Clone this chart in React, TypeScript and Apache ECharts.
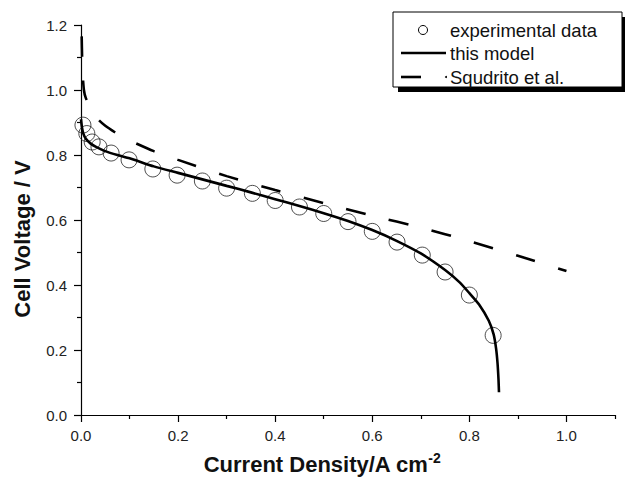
import React, { useEffect, useRef } from "react";
import * as echarts from "echarts";

// Experimental data (circles)
const expX = [0.004, 0.012, 0.023, 0.037, 0.062, 0.099, 0.148, 0.198, 0.25, 0.3, 0.353, 0.4, 0.45, 0.5, 0.55, 0.6, 0.651, 0.703, 0.75, 0.8, 0.849];
const expY = [0.892, 0.866, 0.84, 0.825, 0.806, 0.785, 0.757, 0.738, 0.72, 0.698, 0.682, 0.66, 0.64, 0.62, 0.595, 0.565, 0.532, 0.492, 0.44, 0.369, 0.245];

// This model (solid)
const modelX = [0, 0.002, 0.005, 0.01, 0.02, 0.03, 0.05, 0.075, 0.1, 0.15, 0.2, 0.25, 0.3, 0.35, 0.4, 0.45, 0.5, 0.55, 0.6, 0.65, 0.7, 0.75, 0.78, 0.8, 0.82, 0.84, 0.85, 0.855, 0.858, 0.86, 0.861];
const modelY = [0.91, 0.885, 0.865, 0.85, 0.835, 0.826, 0.812, 0.8, 0.79, 0.765, 0.745, 0.725, 0.705, 0.685, 0.664, 0.643, 0.621, 0.597, 0.569, 0.536, 0.497, 0.446, 0.408, 0.375, 0.34, 0.29, 0.248, 0.205, 0.16, 0.11, 0.07];

// Squdrito et al. (dashed)
const sqX = [0.0002, 0.001, 0.003, 0.006, 0.01, 0.02, 0.035, 0.05, 0.075, 0.1, 0.15, 0.2, 0.3, 0.4, 0.5, 0.6, 0.7, 0.8, 0.9, 1.0];
const sqY = [1.3, 1.2, 1.06, 1.0, 0.975, 0.945, 0.91, 0.89, 0.865, 0.845, 0.812, 0.785, 0.735, 0.692, 0.652, 0.613, 0.577, 0.535, 0.49, 0.443];

const legendLabels = ["experimental data", "this model", "Squdrito et al."];
const xMajorTicks = [0, 0.2, 0.4, 0.6, 0.8, 1.0];
const xMinorTicks = [0.1, 0.3, 0.5, 0.7, 0.9, 1.1];
const xTitle = "Current Density/A cm";
const xTitleSup = "-2";
const yTitle = "Cell Voltage / V";

const FONT = "Liberation Sans, Arial, Helvetica, sans-serif";

const zip = (xs: number[], ys: number[]) => xs.map((x, i) => [x, ys[i]]);

export default function App() {
  const ref = useRef<HTMLDivElement>(null);
  useEffect(() => {
    if (!ref.current) return;
    const chart = echarts.init(ref.current, null, { renderer: "svg" });
    const axisLineStyle = { color: "#000", width: 1.2 };
    const labelStyle = { color: "#222", fontSize: 15, fontFamily: FONT };
    chart.setOption({
      animation: false,
      backgroundColor: "#fff",
      grid: { left: 81, top: 25, right: 10, bottom: 62, containLabel: false },
      xAxis: [
        {
          type: "value",
          min: 0,
          max: 1.1,
          position: "bottom",
          axisLine: { show: true, lineStyle: axisLineStyle },
          axisTick: { show: true, length: 7, lineStyle: axisLineStyle, customValues: xMajorTicks },
          axisLabel: { ...labelStyle, margin: 13, customValues: xMajorTicks, formatter: (v: number) => v.toFixed(1) },
          splitLine: { show: false },
        },
        {
          type: "value",
          min: 0,
          max: 1.1,
          position: "bottom",
          offset: 0,
          axisLine: { show: false },
          axisTick: { show: true, length: 4, lineStyle: axisLineStyle, customValues: xMinorTicks },
          axisLabel: { show: false },
          splitLine: { show: false },
        },
      ],
      yAxis: {
        type: "value",
        min: 0,
        max: 1.2,
        interval: 0.2,
        axisLine: { show: true, lineStyle: axisLineStyle },
        axisTick: { show: true, length: 7, lineStyle: axisLineStyle },
        minorTick: { show: true, splitNumber: 2, length: 4, lineStyle: axisLineStyle },
        axisLabel: { ...labelStyle, margin: 14, formatter: (v: number) => v.toFixed(1) },
        splitLine: { show: false },
        minorSplitLine: { show: false },
      },
      series: [
        {
          name: legendLabels[0],
          type: "scatter",
          data: zip(expX, expY),
          symbol: "circle",
          symbolSize: 16,
          itemStyle: { color: "rgba(0,0,0,0)", borderColor: "#222", borderWidth: 1 },
          z: 2,
        },
        {
          name: legendLabels[1],
          type: "line",
          data: zip(modelX, modelY),
          showSymbol: false,
          smooth: 0.2,
          lineStyle: { color: "#000", width: 2.6 },
          z: 3,
        },
        {
          name: legendLabels[2],
          type: "line",
          data: zip(sqX, sqY),
          showSymbol: false,
          smooth: 0.2,
          clip: true,
          lineStyle: { color: "#000", width: 2.6, type: [20, 24] },
          z: 3,
        },
      ],
      graphic: [
        // axis titles
        {
          type: "text",
          x: 322,
          y: 464,
          style: {
            text: "{a|" + xTitle + "}{s|" + xTitleSup + "}",
            align: "center",
            verticalAlign: "middle",
            rich: {
              a: { fontSize: 22, fontWeight: "bold", fontFamily: FONT, fill: "#111" },
              s: { fontSize: 14, fontWeight: "bold", fontFamily: FONT, fill: "#111", padding: [0, 0, 13, 0] },
            },
          },
        },
        {
          type: "text",
          x: 22,
          y: 239,
          rotation: Math.PI / 2,
          style: {
            text: yTitle,
            align: "center",
            verticalAlign: "middle",
            fontSize: 22,
            fontWeight: "bold",
            fontFamily: FONT,
            fill: "#111",
          },
        },
        // legend box with shadow
        { type: "rect", shape: { x: 398, y: 17, width: 229, height: 75 }, style: { fill: "#000" }, z: 10 },
        { type: "rect", shape: { x: 393, y: 12, width: 229, height: 75 }, style: { fill: "#fff", stroke: "#000", lineWidth: 1 }, z: 11 },
        { type: "circle", shape: { cx: 423, cy: 30, r: 4.5 }, style: { fill: "#fff", stroke: "#000", lineWidth: 1 }, z: 12 },
        { type: "line", shape: { x1: 401, y1: 53, x2: 446, y2: 53 }, style: { stroke: "#000", lineWidth: 2.6 }, z: 12 },
        { type: "line", shape: { x1: 401, y1: 77, x2: 421, y2: 77 }, style: { stroke: "#000", lineWidth: 2.6 }, z: 12 },
        { type: "circle", shape: { cx: 446, cy: 77, r: 1 }, style: { fill: "#000" }, z: 12 },
        ...legendLabels.map((t, i) => ({
          type: "text",
          x: 450,
          y: 30 + i * 23.5,
          z: 12,
          style: { text: t, fontSize: 18.5, fontFamily: FONT, fill: "#111", verticalAlign: "middle", align: "left" },
        })),
      ],
    });
    return () => chart.dispose();
  }, []);
  return <div ref={ref} style={{ width: 625, height: 477, position: "absolute", left: 0, top: 0 }} />;
}
